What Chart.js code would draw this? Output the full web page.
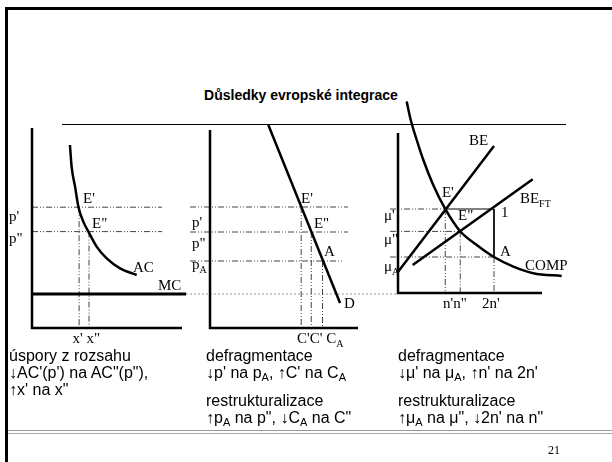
<!DOCTYPE html>
<html>
<head>
<meta charset="utf-8">
<script src="https://cdn.jsdelivr.net/npm/chart.js@4/dist/chart.umd.min.js"></script>
<style>
  html, body { margin: 0; padding: 0; background: #fff; }
  #slide { position: relative; width: 612px; height: 462px; overflow: hidden;
           font-family: Arial, "Liberation Sans", sans-serif; color: #000; }
  #slide canvas { position: absolute; left: 0; top: 0; }
  .frame { position: absolute; left: 5px; top: 7px; right: 0; bottom: 0;
           border-top: 3px solid #000; border-left: 3px solid #000; }
  .title { position: absolute; left: 0; width: 602px; top: 87px; text-align: center;
           font-weight: bold; font-size: 14px; line-height: 16px; }
  .rule { position: absolute; left: 62px; width: 504px; top: 124px; height: 1px; background: #000; }
  .col { position: absolute; top: 347px; font-size: 16px; line-height: 17px; white-space: nowrap; }
  .col .para2 { margin-top: 11px; }
  .col sub { font-size: 11px; vertical-align: -3px; line-height: 0; }
  .foot1 { position: absolute; left: 8px; right: 0; top: 430px; height: 1px; background: #999; }
  .foot2 { position: absolute; left: 8px; right: 0; top: 433px; height: 1px; background: #aaa; }
  .num { position: absolute; left: 548px; top: 443px; font: 12px "Liberation Serif", "Times New Roman", serif; }
</style>
</head>
<body>
<div id="slide">
  <div class="frame"></div>
  <div class="title">Důsledky evropské integrace</div>
  <div class="rule"></div>
  <canvas id="myChart" width="612" height="462"></canvas>
  <div class="col" style="left:9px">úspory z rozsahu<br>↓AC'(p') na AC"(p"),<br>↑x' na x"</div>
  <div class="col" style="left:206px"><div>defragmentace<br>↓p' na p<sub>A</sub>, ↑C' na C<sub>A</sub></div><div class="para2">restrukturalizace<br>↑p<sub>A</sub> na p", ↓C<sub>A</sub> na C"</div></div>
  <div class="col" style="left:398px"><div>defragmentace<br>↓μ' na μ<sub>A</sub>, ↑n' na 2n'</div><div class="para2">restrukturalizace<br>↑μ<sub>A</sub> na μ", ↓2n' na n"</div></div>
  <div class="foot1"></div>
  <div class="foot2"></div>
  <div class="num">21</div>
</div>
<script>
'use strict'

// panel 1: economies of scale (AC, MC)
const acQty = [2.53, 2.64, 2.87, 3.1, 3.42, 3.76, 4.31, 4.98, 5.87, 6.98];
const acCost = [9.15, 8.07, 7.07, 6.04, 5.32, 4.82, 4.07, 3.48, 2.98, 2.65];
const mcCost = 1.7;
const priceLevels1 = [6.04, 4.82];      // p', p"
const qtyLevels1 = [3.14, 3.8];         // x', x"

// panel 2: demand line D
const demandQty = [3.89, 8.67];
const demandPrice = [10.15, 1.25];
const priceLevels2 = [6.05, 4.8, 3.35]; // p', p", pA
const qtyLevels2 = [6.08, 6.75, 7.5];   // C', C", CA

// panel 3: COMP, BE, BE_FT
const compN = [0.58, 0.85, 1.25, 1.69, 2.35, 3.13, 4.13, 5.25, 6.4, 7.69, 9.02, 10.91];
const compMu = [9.57, 8.65, 7.65, 6.65, 5.4, 4.23, 3.1, 2.4, 1.8, 1.32, 0.99, 0.85];
const beN = [0.02, 6.4];
const beMu = [1.07, 7.35];
const beftN = [0.98, 8.98];
const beftMu = [1.4, 5.69];
const muLevels = [4.2, 3.08, 1.8];      // mu', mu", muA
const nLevels = [3.15, 4.15, 6.4];      // n', n", 2n'

// text on the diagrams, placed in each panel's own units
const labels = [
  { panel: 1, u: -1.53, v: 5.35, text: "p'" },
  { panel: 1, u: -1.53, v: 4.25, text: 'p"' },
  { panel: 1, u: 3.4, v: 6.25, text: "E'" },
  { panel: 1, u: 4.0, v: 5.0, text: 'E"' },
  { panel: 1, u: 6.73, v: 2.8, text: 'AC' },
  { panel: 1, u: 8.4, v: 1.9, text: 'MC' },
  { panel: 1, u: 2.7, v: -0.75, text: "x' x\"" },
  { panel: 2, u: -1.2, v: 5.05, text: "p'" },
  { panel: 2, u: -1.2, v: 4.0, text: 'p"' },
  { panel: 2, u: -1.2, v: 2.95, text: 'p', sub: 'A' },
  { panel: 2, u: 6.07, v: 6.25, text: "E'" },
  { panel: 2, u: 6.93, v: 5.0, text: 'E"' },
  { panel: 2, u: 7.6, v: 3.6, text: 'A' },
  { panel: 2, u: 8.93, v: 1.0, text: 'D' },
  { panel: 2, u: 5.8, v: -0.75, text: "C'C' C", sub: 'A' },
  { panel: 3, u: -0.93, v: 3.65, text: "μ'" },
  { panel: 3, u: -0.93, v: 2.45, text: 'μ"' },
  { panel: 3, u: -0.93, v: 1.1, text: 'μ', sub: 'A' },
  { panel: 3, u: 4.73, v: 7.4, text: 'BE' },
  { panel: 3, u: 8.13, v: 4.5, text: 'BE', sub: 'FT' },
  { panel: 3, u: 2.93, v: 4.8, text: "E'" },
  { panel: 3, u: 4.0, v: 3.65, text: 'E"' },
  { panel: 3, u: 6.87, v: 3.8, text: '1' },
  { panel: 3, u: 6.8, v: 1.85, text: 'A' },
  { panel: 3, u: 8.47, v: 1.15, text: 'COMP' },
  { panel: 3, u: 3.0, v: -0.75, text: "n'n\"" },
  { panel: 3, u: 5.6, v: -0.75, text: "2n'" },
];

// where each panel's origin sits on the slide, and its pixels per unit
const W = 612, H = 462, SX = 15, SY = 20;
const origins = [[32, 328], [210, 328], [398, 293]];

const scales = {};
origins.forEach(([ox, oy], i) => {
  scales['x' + (i + 1)] = { type: 'linear', display: false, bounds: 'data', min: -ox / SX, max: (W - ox) / SX };
  scales['y' + (i + 1)] = { type: 'linear', display: false, bounds: 'data', min: -(H - oy) / SY, max: oy / SY };
});

const heavy = { borderWidth: 2.5 };
const curve = { borderWidth: 2.5, cubicInterpolationMode: 'monotone', tension: 0.4 };
const dashDot = { borderWidth: 1, borderColor: '#444', borderDash: [6, 2, 1, 2, 1, 2] };
const thin = { borderWidth: 1 };
const dotted = { borderWidth: 1, borderColor: '#999', borderDash: [2, 2] };

function line(panel, xs, ys, style) {
  return Object.assign({
    xAxisID: 'x' + panel,
    yAxisID: 'y' + panel,
    data: xs.map((x, i) => ({ x: x, y: ys[i] })),
    showLine: true,
    borderColor: '#000',
    pointRadius: 0,
    tension: 0,
    fill: false,
  }, style);
}

const datasets = [
  // panel 1
  line(1, [0, 0, 10], [10, 0, 0], heavy),
  line(1, [0, 10.27], [mcCost, mcCost], { borderWidth: 3 }),
  line(1, acQty, acCost, curve),
  line(1, [0, 8.67], [priceLevels1[0], priceLevels1[0]], dashDot),
  line(1, [0, 8.67], [priceLevels1[1], priceLevels1[1]], dashDot),
  line(1, [qtyLevels1[0], qtyLevels1[0]], [priceLevels1[0], 0], dashDot),
  line(1, [qtyLevels1[1], qtyLevels1[1]], [priceLevels1[1], 0], dashDot),
  // panel 2
  line(2, [0, 0, 9.87], [9.9, 0, 0], heavy),
  line(2, demandQty, demandPrice, heavy),
  line(2, [-1.33, 9.2], [priceLevels2[0], priceLevels2[0]], dashDot),
  line(2, [-1.33, 9.2], [priceLevels2[1], priceLevels2[1]], dashDot),
  line(2, [-1.33, 8.9], [priceLevels2[2], priceLevels2[2]], dashDot),
  line(2, [qtyLevels2[0], qtyLevels2[0]], [priceLevels2[0], 0], dashDot),
  line(2, [qtyLevels2[1], qtyLevels2[1]], [priceLevels2[1], 0], dashDot),
  line(2, [qtyLevels2[2], qtyLevels2[2]], [priceLevels2[2], 0], dashDot),
  line(2, [-1.6, 12.47], [mcCost, mcCost], dotted),
  // panel 3
  line(3, [0, 0, 9.6], [8, 0, 0], heavy),
  line(3, compN, compMu, curve),
  line(3, beN, beMu, heavy),
  line(3, beftN, beftMu, heavy),
  line(3, [-0.53, nLevels[0]], [muLevels[0], muLevels[0]], dashDot),
  line(3, [-0.53, nLevels[1]], [muLevels[1], muLevels[1]], dashDot),
  line(3, [-0.53, nLevels[2]], [muLevels[2], muLevels[2]], dashDot),
  line(3, [nLevels[0], nLevels[2], nLevels[2]], [muLevels[0], muLevels[0], muLevels[2]], thin),
  line(3, [nLevels[0], nLevels[0]], [muLevels[0], 0], dashDot),
  line(3, [nLevels[1], nLevels[1]], [muLevels[1], 0], dashDot),
  line(3, [nLevels[2], nLevels[2]], [muLevels[2], 0], dashDot),
];

const labelPlugin = {
  id: 'diagramLabels',
  afterDatasetsDraw(chart) {
    const ctx = chart.ctx;
    ctx.save();
    ctx.fillStyle = '#000';
    ctx.textAlign = 'left';
    ctx.textBaseline = 'alphabetic';
    labels.forEach(l => {
      const x = chart.scales['x' + l.panel].getPixelForValue(l.u);
      const y = chart.scales['y' + l.panel].getPixelForValue(l.v);
      ctx.font = '15px "Liberation Serif", "Times New Roman", serif';
      ctx.fillText(l.text, x, y);
      if (l.sub) {
        const w = ctx.measureText(l.text).width;
        ctx.font = '10px "Liberation Serif", "Times New Roman", serif';
        ctx.fillText(l.sub, x + w, y + 4);
      }
    });
    ctx.restore();
  }
};

const config = {
  type: 'scatter',
  data: { datasets: datasets },
  options: {
    responsive: false,
    animation: false,
    layout: { padding: 0 },
    scales: scales,
    plugins: { legend: { display: false }, tooltip: { enabled: false } },
  },
  plugins: [labelPlugin],
};

const myChart = new Chart(document.getElementById('myChart'), config);
</script>
</body>
</html>
